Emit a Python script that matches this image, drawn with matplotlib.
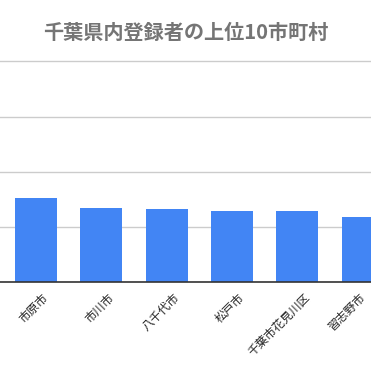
import matplotlib
matplotlib.use('Agg')
import matplotlib.pyplot as plt
import matplotlib.transforms as mtransforms

plt.rcParams['font.family'] = ['Noto Sans CJK JP', 'DejaVu Sans']

# visible part of the chart (the rest is cropped off on the right)
cities = ['市原市', '市川市', '八千代市', '松戸市', '千葉市花見川区', '習志野市']
counts = [152, 134, 132, 129, 129, 118]
title = '千葉県内登録者の上位10市町村'

fig = plt.figure(figsize=(3.71, 3.71), dpi=100)
# axes spans whole width, bars clipped at the right edge like the reference
ax = fig.add_axes([0, 89 / 371, 1, 231.7 / 371])

x = list(range(len(cities)))
ax.bar(x, counts, width=0.643, color='#4285F4', zorder=3)

ax.set_xlim(-0.551, 5.130)
ax.set_ylim(0, 420)
ax.set_yticks([0, 100, 200, 300, 400])
ax.yaxis.grid(True, color='#cccccc', linewidth=1, zorder=0)
ax.tick_params(axis='y', left=False, labelleft=False)
ax.tick_params(axis='x', length=0, pad=0)

for side in ['top', 'left', 'right']:
    ax.spines[side].set_visible(False)
ax.spines['bottom'].set_color('#333333')
ax.spines['bottom'].set_linewidth(1.2)
ax.spines['bottom'].set_zorder(4)

ax.set_xticks(x)
ax.set_xticklabels(cities, rotation=45, ha='right', va='top',
                   rotation_mode='anchor', fontsize=8.5, color='#222222')
labels = ax.get_xticklabels()
for i, lbl in enumerate(labels):
    # last label sits nearer its tick so it stays inside the picture
    dx = -4 if i == len(labels) - 1 else 6
    offset = mtransforms.ScaledTranslation(dx / 100, -9 / 100, fig.dpi_scale_trans)
    lbl.set_transform(lbl.get_transform() + offset)

fig.text(0.5, 1 - 32 / 371, title, ha='center', va='center',
         fontsize=14.5, fontweight='bold', color='#757575')

fig.savefig('out.png', dpi=100)
